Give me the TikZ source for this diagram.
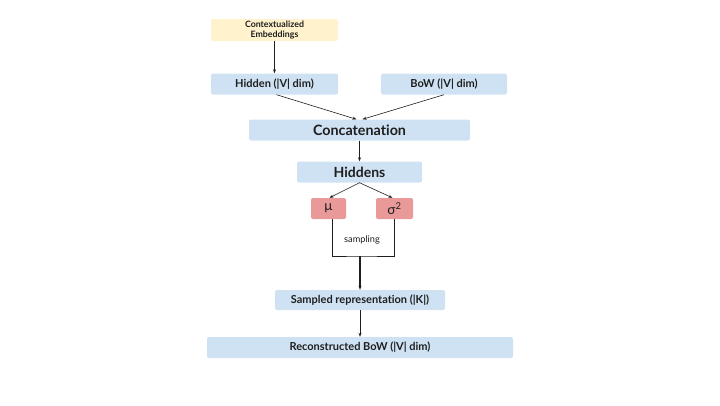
\documentclass[tikz,border=0pt]{standalone}
\usepackage{fontspec}
\setmainfont{Lato}[Ligatures={NoCommon,NoRare,NoContextual}]
\usetikzlibrary{arrows.meta}
\definecolor{boxblue}{HTML}{CFE2F3}
\definecolor{boxyellow}{HTML}{FFF2CC}
\definecolor{boxred}{HTML}{EA9999}
\definecolor{txt}{HTML}{1F1F1F}
\tikzset{
  bx/.style={fill=boxblue, rounded corners=2pt, inner sep=0pt, text=txt, font=\bfseries},
  yb/.style={bx, fill=boxyellow},
  rb/.style={bx, fill=boxred, font=\normalfont},
  arr/.style={-{Stealth[length=4pt,width=3pt]}, line width=0.6pt, txt},
  ln/.style={line width=0.6pt, txt},
}
\begin{document}
\begin{tikzpicture}[x=1pt,y=-1pt]
\useasboundingbox (0,0) rectangle (720,405);
\node[yb, minimum width=127pt, minimum height=22pt, align=center, font=\bfseries\fontsize{8.8}{10}\selectfont] (ce) at (274.5,30) {Contextualized\\Embeddings};
\node[bx, minimum width=127pt, minimum height=21pt, font=\bfseries\fontsize{11}{12}\selectfont] (hid) at (274.5,84) {Hidden (|V| dim)};
\node[bx, minimum width=126pt, minimum height=21pt, font=\bfseries\fontsize{11}{12}\selectfont] (bow) at (444,84) {BoW (|V| dim)};
\node[bx, minimum width=221pt, minimum height=21pt, font=\bfseries\fontsize{14.3}{16}\selectfont] (cat) at (359.5,130) {Concatenation};
\node[bx, minimum width=125pt, minimum height=21pt, font=\bfseries\fontsize{14}{16}\selectfont] (hs) at (359.5,172) {Hiddens};
\node[rb, minimum width=35pt, minimum height=21pt, font=\fontsize{13.5}{14}\selectfont] (mu) at (328.5,208.5) {μ};
\node[rb, minimum width=37pt, minimum height=21pt, font=\fontsize{13.5}{14}\selectfont] (sg) at (394.5,208.5) {σ\textsuperscript{2}};
\node[font=\fontsize{9.2}{10}\selectfont, text=txt] (samp) at (362,240) {sampling};
\node[bx, minimum width=170pt, minimum height=20pt, font=\bfseries\fontsize{11}{12}\selectfont] (sr) at (360,300) {Sampled representation (|K|)};
\node[bx, minimum width=306pt, minimum height=21pt, font=\bfseries\fontsize{11}{12}\selectfont] (rec) at (360,347.5) {Reconstructed BoW (|V| dim)};
\coordinate (jn) at (360,256);
\draw[arr] (ce) -- (hid);
\draw[arr] ([xshift=2pt]hid.south) -- ([xshift=-3pt]cat.north);
\draw[arr] (bow.south) -- ([xshift=3pt]cat.north);
\draw[arr] (cat) -- (hs);
\draw[arr] (hs.south) -- ([xshift=1pt]mu.north);
\draw[arr] (hs.south) -- ([xshift=-2pt]sg.north);
\draw[ln] ([xshift=4pt]mu.south) |- (jn) -| (sg.south);
\draw[-{Stealth[length=4pt,width=3pt]}, line width=1.4pt, txt] (jn) -- (sr.north);
\draw[arr] (sr) -- (rec);
\end{tikzpicture}
\end{document}
